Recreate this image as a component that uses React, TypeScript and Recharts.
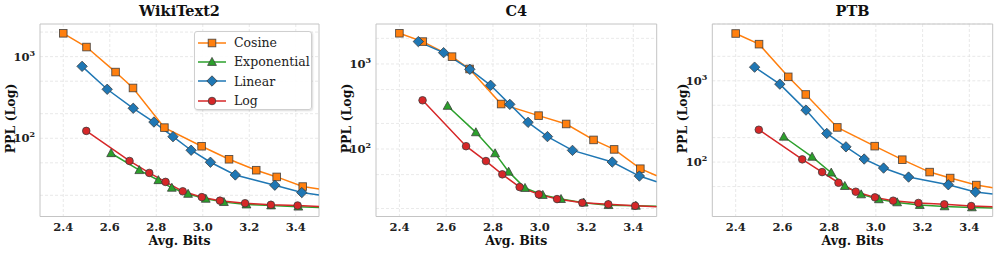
import React from 'react';
import { LineChart, Line, XAxis, YAxis, CartesianGrid, ReferenceArea, Legend } from 'recharts';

const FONT = '"DejaVu Serif", serif';

const seriesNames = ['Cosine', 'Exponential', 'Linear', 'Log'];
const seriesColors = ['#ff7f0e', '#2ca02c', '#1f77b4', '#d62728'];
const seriesShapes = ['square', 'triangle', 'diamond', 'circle'];

const xTicks = [2.4, 2.6, 2.8, 3.0, 3.2, 3.4];
const xDomain = [2.3, 3.5];
const yTicks = [100, 1000];

// avg. bits of each schedule (same configs on all three datasets)
const cosineBits = [2.4, 2.5, 2.625, 2.7, 2.835, 2.995, 3.113, 3.23, 3.318, 3.43];
const expBits = [2.606, 2.727, 2.809, 2.867, 2.937, 3.013, 3.091, 3.188, 3.294, 3.411];
const linearBits = [2.481, 2.589, 2.701, 2.79, 2.872, 2.95, 3.033, 3.14, 3.31, 3.426];
const logBits = [2.499, 2.685, 2.77, 2.84, 2.914, 2.996, 3.074, 3.182, 3.293, 3.408];
const bitsBySeries = [cosineBits, expBits, linearBits, logBits];

// WikiText2
const wikiCosine = [1930, 1310, 647, 413, 135, 79.8, 55.3, 40.6, 33.6, 25.6];
const wikiExp = [65.5, 40.6, 30.6, 24.7, 20.8, 18.1, 16.5, 15.4, 15.0, 14.5];
const wikiLinear = [760, 398, 233, 158, 104.6, 71.3, 50.8, 35.5, 26.6, 21.6];
const wikiLog = [123, 52.7, 37.6, 29.2, 22.4, 19.0, 17.2, 16.0, 15.3, 15.0];
const wikiTail = [23.9, 14.2, 20.2, 14.6]; // curve value at 3.5

// C4
const c4Cosine = [2296, 1833, 1219, 873, 338, 247, 197, 128, 99, 58.7];
const c4Exp = [321, 157, 88.9, 54, 34.8, 28.8, 25.8, 23.4, 21.9, 21.5];
const c4Linear = [1833, 1358, 865, 561, 335, 206, 140, 96.4, 70.3, 48.1];
const c4Log = [374, 108, 72.2, 50.4, 35.7, 29.3, 25.8, 23.4, 22.4, 21.5];
const c4Tail = [48.5, 21.3, 41.3, 21.0];

// PTB
const ptbCosine = [3820, 2825, 1119, 679, 267, 157, 107, 75.3, 63.6, 52.1];
const ptbExp = [205, 116, 74, 50.7, 40, 34.8, 31.9, 29.6, 28.5, 27.7];
const ptbLinear = [1472, 910, 436, 225, 154, 109, 84.4, 65.4, 52.6, 42.8];
const ptbLog = [250, 108, 75.3, 55.7, 43.2, 36.8, 33.5, 31.4, 30.2, 28.8];
const ptbTail = [48.3, 27.3, 40.4, 28.3];

const buildSeries = (vals: number[], bits: number[], tail: number) => [
  ...vals.map((v, i) => ({ x: bits[i], y: v, marker: true })),
  { x: xDomain[1], y: tail, marker: false },
];

const gridValues = (lo: number, hi: number) => {
  const out: number[] = [];
  for (let p = 1; p <= 1000; p *= 10) {
    for (let m = 1; m <= 9; m++) {
      const v = m * p;
      if (v >= lo && v <= hi) out.push(v);
    }
  }
  return out;
};

function Marker({ shape, cx, cy, color }: any) {
  const stroke = '#3a3a3a';
  const common = { fill: color, stroke, strokeWidth: 0.9, strokeOpacity: 0.85 };
  if (shape === 'square') return <rect x={cx - 3.8} y={cy - 3.8} width={7.6} height={7.6} {...common} />;
  if (shape === 'diamond')
    return <polygon points={`${cx},${cy - 5.2} ${cx + 5.2},${cy} ${cx},${cy + 5.2} ${cx - 5.2},${cy}`} {...common} />;
  if (shape === 'triangle')
    return <polygon points={`${cx},${cy - 4.6} ${cx + 4.4},${cy + 3.4} ${cx - 4.4},${cy + 3.4}`} {...common} />;
  return <circle cx={cx} cy={cy} r={3.8} {...common} />;
}

const makeDot = (shape: string, color: string) => (props: any) => {
  const { cx, cy, payload, index } = props;
  if (!payload?.marker || cx == null || cy == null) return <g key={index} />;
  return (
    <g key={index}>
      <Marker shape={shape} cx={cx} cy={cy} color={color} />
    </g>
  );
};

function LogTick({ x, y, payload }: any) {
  const exp = Math.round(Math.log10(payload.value));
  return (
    <text x={x} y={y} dy={4} textAnchor="end" fontFamily={FONT} fontWeight="bold" fontSize={11.5} fill="#222">
      <tspan>10</tspan>
      <tspan dy={-5} fontSize={8}>{exp}</tspan>
    </text>
  );
}

function LegendBox() {
  return (
    <div
      style={{
        background: 'rgba(255,255,255,0.9)',
        border: '1px solid #cfcfcf',
        borderRadius: 3,
        boxShadow: '1px 1px 2px rgba(0,0,0,0.15)',
        width: 118,
        height: 79,
        boxSizing: 'border-box',
        paddingTop: 1,
      }}
    >
      {seriesNames.map((name, i) => (
        <div key={name} style={{ display: 'flex', alignItems: 'center', height: 19.3 }}>
          <svg width={36} height={14} style={{ display: 'block' }}>
            <line x1={3} x2={31} y1={7} y2={7} stroke={seriesColors[i]} strokeWidth={1.5} />
            <Marker shape={seriesShapes[i]} cx={17} cy={7} color={seriesColors[i]} />
          </svg>
          <span style={{ fontFamily: FONT, fontSize: 12.5, color: '#222', marginLeft: 3 }}>{name}</span>
        </div>
      ))}
    </div>
  );
}

type PanelProps = {
  title: string;
  left: number;
  width: number;
  yWidth: number;
  right: number;
  domain: number[];
  values: number[][];
  tail: number[];
  legend?: boolean;
};

function Panel({ title, left, width, yWidth, right, domain, values, tail, legend }: PanelProps) {
  const top = 24;
  const plotBottom = 216.5;
  const height = 253;
  const xAxisH = 30;
  const plotLeft = yWidth;
  const plotRight = width - right;
  const center = (plotLeft + plotRight) / 2;
  return (
    <div style={{ position: 'absolute', left, top: 0, width, height }}>
      <div
        style={{
          position: 'absolute',
          left: center - 100,
          width: 200,
          top: 2,
          textAlign: 'center',
          fontFamily: FONT,
          fontWeight: 'bold',
          fontSize: 14.5,
          color: '#111',
        }}
      >
        {title}
      </div>
      <div
        style={{
          position: 'absolute',
          left: center - 100,
          width: 200,
          top: 233,
          textAlign: 'center',
          fontFamily: FONT,
          fontWeight: 'bold',
          fontSize: 12.5,
          color: '#111',
        }}
      >
        Avg. Bits
      </div>
      <div
        style={{
          position: 'absolute',
          left: yWidth - 30 - 50,
          top: (top + plotBottom) / 2 - 9,
          width: 100,
          textAlign: 'center',
          transform: 'rotate(-90deg)',
          fontFamily: FONT,
          fontWeight: 'bold',
          fontSize: 12.5,
          color: '#111',
        }}
      >
        PPL (Log)
      </div>
      <LineChart
        width={width}
        height={height}
        margin={{ top, right, left: 0, bottom: height - plotBottom - xAxisH }}
      >
        <CartesianGrid
          stroke="#e0e0e0"
          strokeDasharray="3 2"
          strokeWidth={0.7}
          horizontalValues={gridValues(domain[0], domain[1])}
          verticalValues={xTicks}
        />
        <XAxis
          type="number"
          dataKey="x"
          domain={xDomain}
          ticks={xTicks}
          allowDataOverflow
          height={xAxisH}
          tickFormatter={(v: number) => v.toFixed(1)}
          tick={{ fontFamily: FONT, fontWeight: 'bold', fontSize: 11.5, fill: '#222' }}
          tickLine={false}
          axisLine={false}
          tickSize={0}
          tickMargin={6}
        />
        <YAxis
          type="number"
          scale="log"
          domain={domain}
          ticks={yTicks}
          allowDataOverflow
          width={yWidth}
          tick={<LogTick />}
          tickLine={false}
          axisLine={false}
          tickSize={0}
          tickMargin={5}
        />
        <ReferenceArea
          x1={xDomain[0]}
          x2={xDomain[1]}
          y1={domain[0]}
          y2={domain[1]}
          fill="none"
          stroke="#c4c4c4"
          strokeWidth={1}
        />
        {values.map((vals, i) => (
          <Line
            key={seriesNames[i]}
            data={buildSeries(vals, bitsBySeries[i], tail[i])}
            dataKey="y"
            name={seriesNames[i]}
            type="linear"
            stroke={seriesColors[i]}
            strokeWidth={1.5}
            dot={makeDot(seriesShapes[i], seriesColors[i])}
            activeDot={false}
            isAnimationActive={false}
          />
        ))}
        {legend && (
          <Legend
            layout="vertical"
            align="center"
            verticalAlign="middle"
            content={() => <LegendBox />}
            wrapperStyle={{ position: 'absolute', left: 194, top: 31, width: 118, height: 79 }}
          />
        )}
      </LineChart>
    </div>
  );
}

export default function App() {
  return (
    <div style={{ position: 'absolute', left: 0, top: 0, width: 997, height: 253, background: '#fff' }}>
      <Panel
        title="WikiText2"
        left={0}
        width={330}
        yWidth={40}
        right={11}
        domain={[11, 2510]}
        values={[wikiCosine, wikiExp, wikiLinear, wikiLog]}
        tail={wikiTail}
        legend
      />
      <Panel
        title="C4"
        left={330}
        width={330}
        yWidth={46}
        right={3.3}
        domain={[16.1, 2950]}
        values={[c4Cosine, c4Exp, c4Linear, c4Log]}
        tail={c4Tail}
      />
      <Panel
        title="PTB"
        left={660}
        width={337}
        yWidth={52.3}
        right={4.3}
        domain={[21.4, 5000]}
        values={[ptbCosine, ptbExp, ptbLinear, ptbLog]}
        tail={ptbTail}
      />
    </div>
  );
}
